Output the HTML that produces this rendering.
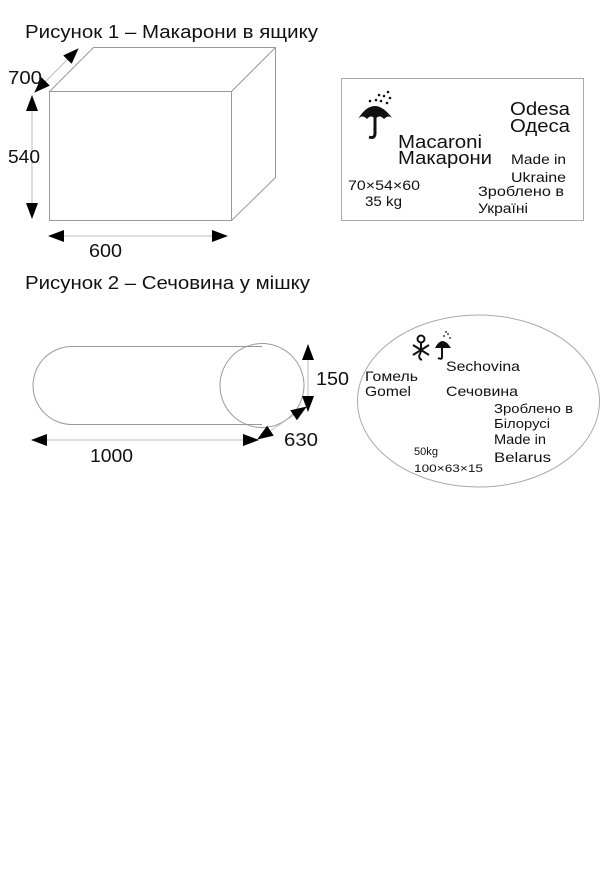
<!DOCTYPE html>
<html><head><meta charset="utf-8"><style>
html,body{margin:0;padding:0;background:#fff;width:616px;height:871px;overflow:hidden}
svg{display:block}
text{font-family:"Liberation Sans","DejaVu Sans",sans-serif;fill:#111}
</style></head><body>
<svg width="616" height="871" viewBox="0 0 616 871" xmlns="http://www.w3.org/2000/svg">
<defs>
<marker id="b" markerWidth="16" markerHeight="12" refX="15" refY="6" orient="auto-start-reverse" markerUnits="userSpaceOnUse"><path d="M0,0 L16,6 L0,12 Z" fill="#000"/></marker>
</defs>
<text x="25" y="38" font-size="18" textLength="293" lengthAdjust="spacingAndGlyphs">Рисунок 1 – Макарони в ящику</text>
<g stroke="#999" stroke-width="1" fill="none">
<rect x="49.5" y="91.5" width="182" height="129"/>
<path d="M49.5,91.5 L93.5,47.5 L275.5,47.5 L275.5,177.5 L231.5,220.5 M231.5,91.5 L275.5,47.5"/>
</g>
<g stroke="#bbb" stroke-width="1" fill="none">
<line x1="32" y1="96" x2="32" y2="218" marker-start="url(#b)" marker-end="url(#b)"/>
<line x1="49" y1="236" x2="227" y2="236" marker-start="url(#b)" marker-end="url(#b)"/>
<line x1="78" y1="49" x2="35" y2="92" marker-start="url(#b)" marker-end="url(#b)"/>
</g>
<text x="8" y="84" font-size="18" textLength="34" lengthAdjust="spacingAndGlyphs">700</text>
<text x="8" y="163" font-size="18" textLength="32" lengthAdjust="spacingAndGlyphs">540</text>
<text x="89" y="257" font-size="18" textLength="33" lengthAdjust="spacingAndGlyphs">600</text>

<rect x="341.5" y="78.5" width="242" height="142" fill="none" stroke="#aaa"/>
<g fill="#111">
<path d="M358,119 Q374,93 393,119 Q389,114 384,119 Q380,114 375,119 Q371,114 367,119 Q362,114 358,119 Z"/>
<path d="M375,117 L375,133 Q375,139 369,137" stroke="#111" stroke-width="3" fill="none"/>
<circle cx="370" cy="101" r="1.3"/><circle cx="376" cy="100" r="1.3"/><circle cx="381" cy="101" r="1.3"/><circle cx="387" cy="103" r="1.3"/><circle cx="384" cy="96" r="1.3"/><circle cx="390" cy="98" r="1.3"/><circle cx="388" cy="92" r="1.3"/><circle cx="379" cy="95" r="1.3"/>
</g>
<text x="510" y="115" font-size="18" textLength="60" lengthAdjust="spacingAndGlyphs">Odesa</text>
<text x="510" y="132" font-size="18" textLength="60" lengthAdjust="spacingAndGlyphs">Одеса</text>
<text x="398" y="148" font-size="18" textLength="84" lengthAdjust="spacingAndGlyphs">Macaroni</text>
<text x="398" y="164" font-size="18" textLength="94" lengthAdjust="spacingAndGlyphs">Макарони</text>
<text x="511" y="164" font-size="14" textLength="55" lengthAdjust="spacingAndGlyphs">Made in</text>
<text x="511" y="182" font-size="14" textLength="55" lengthAdjust="spacingAndGlyphs">Ukraine</text>
<text x="348" y="190" font-size="14" textLength="72" lengthAdjust="spacingAndGlyphs">70×54×60</text>
<text x="365" y="206" font-size="14" textLength="37" lengthAdjust="spacingAndGlyphs">35 kg</text>
<text x="478" y="196" font-size="14" textLength="86" lengthAdjust="spacingAndGlyphs">Зроблено в</text>
<text x="478" y="213" font-size="14" textLength="50" lengthAdjust="spacingAndGlyphs">Україні</text>

<text x="25" y="289" font-size="18" textLength="285" lengthAdjust="spacingAndGlyphs">Рисунок 2 – Сечовина у мішку</text>
<g stroke="#999" stroke-width="1" fill="none">
<path d="M262,346.5 L72,346.5 A39,39 0 0 0 72,424.5 L262,424.5"/>
<circle cx="262" cy="385.5" r="42"/>
</g>
<g stroke="#bbb" stroke-width="1" fill="none">
<line x1="308" y1="345" x2="308" y2="411" marker-start="url(#b)" marker-end="url(#b)"/>
<line x1="306" y1="407" x2="258" y2="439" marker-start="url(#b)" marker-end="url(#b)"/>
<line x1="32" y1="440" x2="258" y2="440" marker-start="url(#b)" marker-end="url(#b)"/>
</g>
<text x="316" y="385" font-size="18" textLength="33" lengthAdjust="spacingAndGlyphs">150</text>
<text x="284" y="446" font-size="18" textLength="34" lengthAdjust="spacingAndGlyphs">630</text>
<text x="90" y="462" font-size="18" textLength="43" lengthAdjust="spacingAndGlyphs">1000</text>

<ellipse cx="478.5" cy="401" rx="121" ry="86" fill="none" stroke="#aaa"/>
<g stroke="#111" stroke-width="2" fill="none">
<circle cx="421" cy="339" r="3.5"/>
<path d="M421,343 L421,352 M413,345 L429,355 M413,355 L429,345 M421,352 Q417,358 422,360"/>
<path d="M442,346 L442,357 Q442,360 438,358"/>
</g>
<path d="M435,348 Q442,334 451,348 Z" fill="#111"/>
<g fill="#111"><circle cx="444" cy="336" r="0.9"/><circle cx="448" cy="334" r="0.9"/><circle cx="450" cy="338" r="0.9"/><circle cx="446" cy="332" r="0.9"/></g>
<text x="446" y="371" font-size="14" textLength="74" lengthAdjust="spacingAndGlyphs">Sechovina</text>
<text x="365" y="381" font-size="14" textLength="53" lengthAdjust="spacingAndGlyphs">Гомель</text>
<text x="365" y="396" font-size="14" textLength="46" lengthAdjust="spacingAndGlyphs">Gomel</text>
<text x="446" y="396" font-size="14" textLength="72" lengthAdjust="spacingAndGlyphs">Сечовина</text>
<text x="494" y="413" font-size="13" textLength="79" lengthAdjust="spacingAndGlyphs">Зроблено в</text>
<text x="494" y="428" font-size="13" textLength="56" lengthAdjust="spacingAndGlyphs">Білорусі</text>
<text x="494" y="444" font-size="14" textLength="52" lengthAdjust="spacingAndGlyphs">Made in</text>
<text x="494" y="462" font-size="14" textLength="57" lengthAdjust="spacingAndGlyphs">Belarus</text>
<text x="414" y="455" font-size="11" textLength="24" lengthAdjust="spacingAndGlyphs">50kg</text>
<text x="414" y="472" font-size="11" textLength="69" lengthAdjust="spacingAndGlyphs">100×63×15</text>
</svg>
</body></html>
